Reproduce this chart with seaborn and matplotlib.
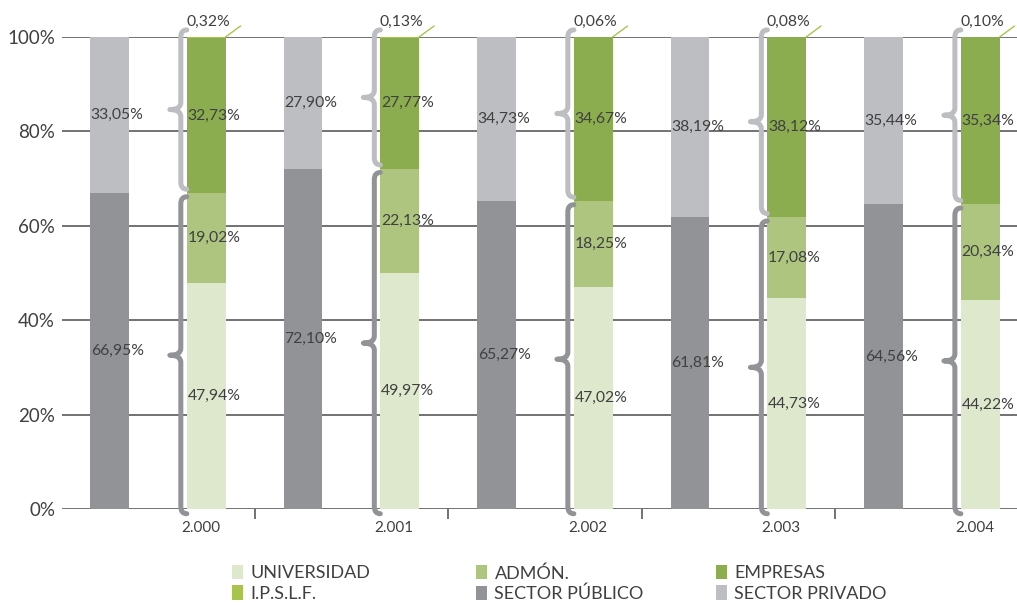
import numpy as np
import pandas as pd
import matplotlib
matplotlib.use("Agg")
import matplotlib.pyplot as plt
from matplotlib.path import Path
from matplotlib.patches import PathPatch, Patch
import seaborn as sns

# ---- data ----
years = ["2.000", "2.001", "2.002", "2.003", "2.004"]
sector_publico = [66.95, 72.10, 65.27, 61.81, 64.56]
sector_privado = [33.05, 27.90, 34.73, 38.19, 35.44]
universidad = [47.94, 49.97, 47.02, 44.73, 44.22]
admon = [19.02, 22.13, 18.25, 17.08, 20.34]
empresas = [32.73, 27.77, 34.67, 38.12, 35.34]
ipslf = [0.32, 0.13, 0.06, 0.08, 0.10]
y_ticks = [0, 20, 40, 60, 80, 100]

c_univ = "#dde8cc"
c_admon = "#adc57f"
c_emp = "#8bad4f"
c_ipslf = "#a9c44c"
c_pub = "#929397"
c_priv = "#bdbec2"
c_text = "#404040"

sns.set_theme(style="white")
plt.rcParams["font.family"] = ["Lato", "DejaVu Sans"]

W, H = 1017, 605
fig = plt.figure(figsize=(W / 100, H / 100), dpi=100)
ax = fig.add_axes([62 / W, 1 - 509 / H, 955 / W, 472 / H])

pos = np.arange(len(years))
gx = pos - 0.25
vx = pos + 0.25
pub = np.array(sector_publico)
priv = np.array(sector_privado)
u = np.array(universidad)
a = np.array(admon)
e = np.array(empresas)
ip = np.array(ipslf)

def layer(x, y, color):
    df = pd.DataFrame({"x": x, "y": y})
    sns.barplot(data=df, x="x", y="y", native_scale=True, width=0.2,
                color=color, saturation=1, errorbar=None, linewidth=0, ax=ax)

# sector bars
layer(gx, pub + priv, c_priv)
layer(gx, pub, c_pub)
# breakdown bars
layer(vx, u + a + e + ip, c_ipslf)
layer(vx, u + a + e, c_emp)
layer(vx, u + a, c_admon)
layer(vx, u, c_univ)

ax.set_xlim(-0.495, 4.44)
ax.set_ylim(0, 100)
ax.set_axisbelow(True)
ax.yaxis.grid(True, color="#5a5a5a", lw=1.2)
ax.xaxis.grid(False)
for s in ax.spines.values():
    s.set_visible(False)

ax.set_yticks(y_ticks)
ax.set_yticklabels([f"{t}%" for t in y_ticks], fontsize=13.5, color=c_text)
ax.set_xticks(vx - 0.03)
ax.set_xticklabels(years, fontsize=11, color=c_text)
ax.set_xticks([0.5, 1.5, 2.5, 3.5], minor=True)
ax.tick_params(axis="x", which="major", length=0, pad=9)
ax.tick_params(axis="x", which="minor", length=7, width=1.2, color="#5a5a5a",
               bottom=True, direction="out")
ax.tick_params(axis="y", length=0, pad=5)
ax.set_xlabel("")
ax.set_ylabel("")

def fmt(v):
    return f"{v:.2f}%".replace(".", ",")

lbl_kw = dict(ha="center", va="center", fontsize=11.3, color=c_text)
off = 0.04
for i in range(len(years)):
    ax.text(gx[i] + off, pub[i] + priv[i] / 2, fmt(priv[i]), **lbl_kw)
    ax.text(gx[i] + off, pub[i] / 2, fmt(pub[i]), **lbl_kw)
    ax.text(vx[i] + off, u[i] / 2, fmt(u[i]), **lbl_kw)
    ax.text(vx[i] + off, u[i] + a[i] / 2, fmt(a[i]), **lbl_kw)
    ax.text(vx[i] + off, u[i] + a[i] + e[i] / 2, fmt(e[i]), **lbl_kw)
    ax.text(vx[i] + 0.01, 103.3, fmt(ip[i]), clip_on=False, **lbl_kw)
    ax.plot([vx[i] + 0.1, vx[i] + 0.1 + 15 / 193.5], [100, 100 + 11 / 4.72],
            color=c_ipslf, lw=1, clip_on=False)

# braces
px_x = 1 / 193.5
px_y = 1 / 4.72

def brace(xs, y0, y1, color):
    rx, ry, d = 6 * px_x, 7 * px_y, 11 * px_x
    ym = (y0 + y1) / 2
    verts = [(xs + rx, y1), (xs, y1), (xs, y1 - ry),
             (xs, ym + ry),
             (xs, ym), (xs - d, ym),
             (xs, ym), (xs, ym - ry),
             (xs, y0 + ry),
             (xs, y0), (xs + rx, y0)]
    codes = [Path.MOVETO, Path.CURVE3, Path.CURVE3,
             Path.LINETO,
             Path.CURVE3, Path.CURVE3,
             Path.CURVE3, Path.CURVE3,
             Path.LINETO,
             Path.CURVE3, Path.CURVE3]
    ax.add_patch(PathPatch(Path(verts, codes), fill=False, edgecolor=color,
                           lw=3.6, capstyle="round", joinstyle="round",
                           clip_on=False, zorder=3))

for i in range(len(years)):
    xs = vx[i] - 0.1 - 6 * px_x
    brace(xs, pub[i] + 0.8, 101.5, c_priv)
    brace(xs, -1.0, pub[i] - 0.8, c_pub)

# legend (3 columns placed on a fixed grid)
cols = [
    [("UNIVERSIDAD", c_univ), ("I.P.S.L.F.", c_ipslf)],
    [("ADMÓN.", c_admon), ("SECTOR PÚBLICO", c_pub)],
    [("EMPRESAS", c_emp), ("SECTOR PRIVADO", c_priv)],
]
col_x = [223, 467, 707]
for cx, entries in zip(col_x, cols):
    handles = [Patch(facecolor=c, edgecolor="none") for _, c in entries]
    labels = [t for t, _ in entries]
    fig.legend(handles, labels, loc="upper left",
               bbox_to_anchor=(cx / W, 1 - 556 / H), frameon=False,
               fontsize=13, handlelength=0.62, handleheight=0.85,
               handletextpad=0.4, labelspacing=0.22, borderpad=0,
               labelcolor=c_text)

fig.savefig("out.png", dpi=100)
